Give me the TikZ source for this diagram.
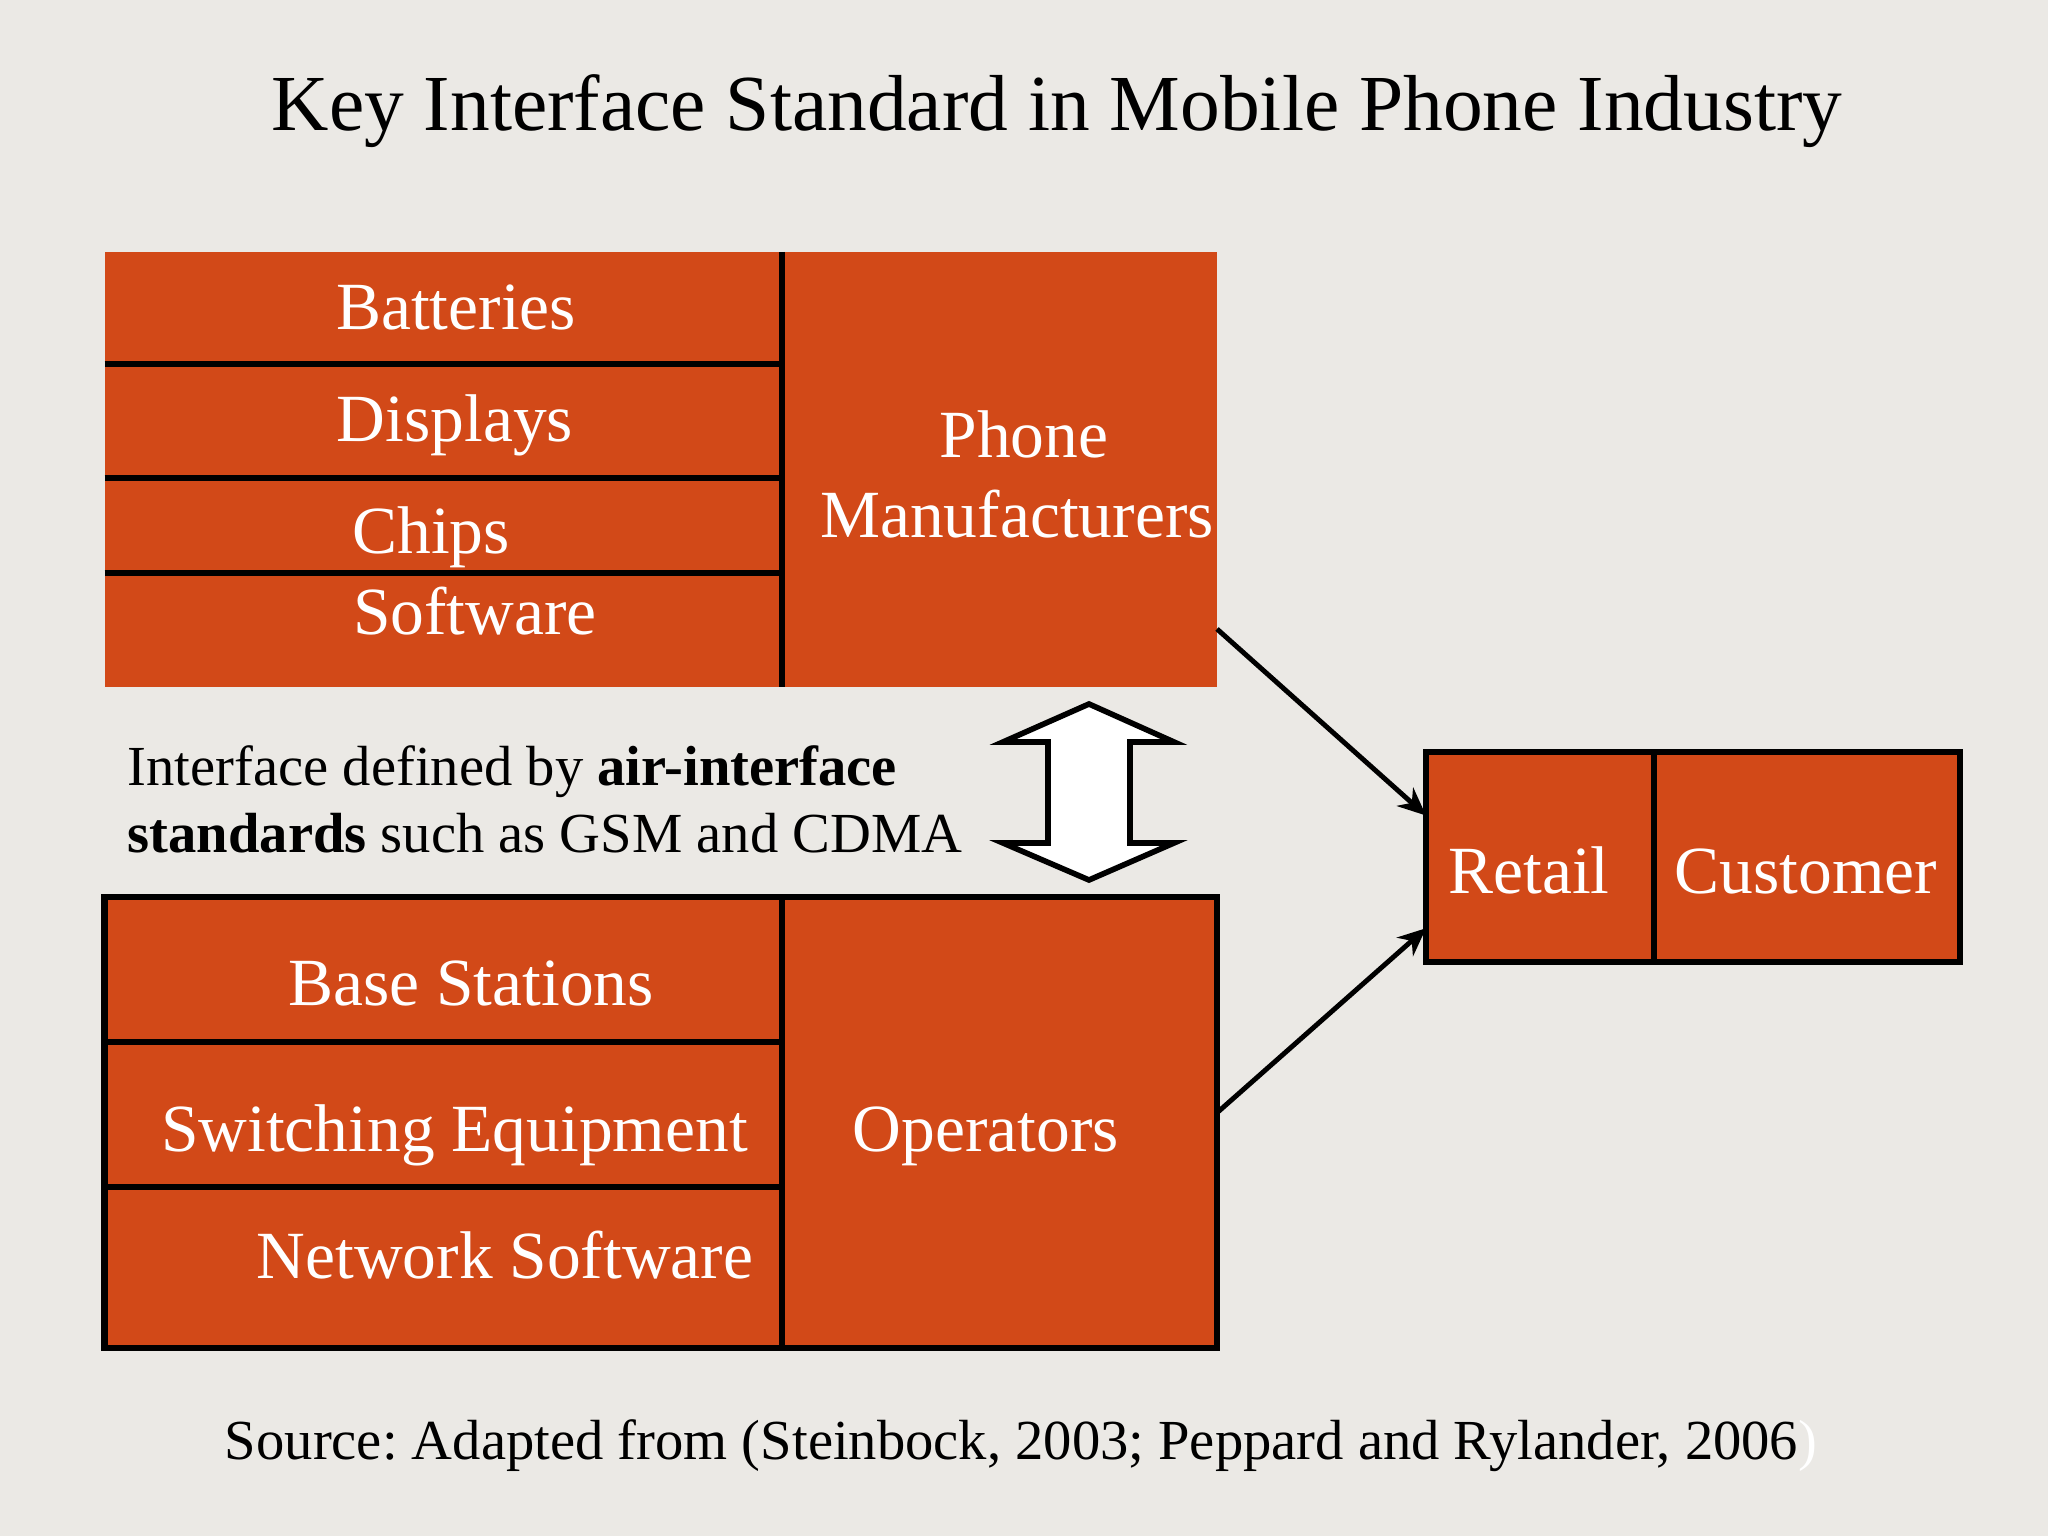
\documentclass[tikz,border=0pt]{standalone}
\usepackage{fontspec}
\setmainfont{Liberation Serif}
\usetikzlibrary{arrows.meta}
\frenchspacing
\definecolor{slidebg}{RGB}{235,233,229}
\definecolor{phoneorange}{RGB}{210,73,24}
\tikzset{
	block/.style={fill=phoneorange, inner sep=0pt, outer sep=0pt},
	framed/.style={block, draw=black, line width=1.9pt},
	divider/.style={line width=1.9pt},
	celltext/.style={text=white, anchor=base, font=\fontsize{19.2}{23}\selectfont},
	plaintext/.style={anchor=base west, inner sep=0pt, font=\fontsize{16.1}{19.3}\selectfont},
	link/.style={line width=1.4pt, -{Stealth[length=8pt, width=7pt]}}
}

\begin{document}
\begin{tikzpicture}
	\fill[slidebg] (0,0) rectangle (20.48,-15.36);
	\useasboundingbox (0,0) rectangle (20.48,-15.36);
	
	\node[anchor=base, font=\fontsize{22.6}{27}\selectfont] (title) at (10.57,-1.31) {Key Interface Standard in Mobile Phone Industry};
	
	% handset side
	\node[block, minimum width=11.125cm, minimum height=4.35cm] (mfr) at (6.6075,-4.695) {};
	\draw[divider] (7.82,-2.52) -- (7.82,-6.87);
	\draw[divider] (1.045,-3.64) -- (7.82,-3.64);
	\draw[divider] (1.045,-4.78) -- (7.82,-4.78);
	\draw[divider] (1.045,-5.73) -- (7.82,-5.73);
	
	\node[celltext] (batt) at (4.56,-3.30) {Batteries};
	\node[celltext] (disp) at (4.55,-4.42) {Displays};
	\node[celltext] (chips) at (4.31,-5.54) {Chips};
	\node[celltext] (soft) at (4.75,-6.35) {Software};
	\node[celltext] (phone) at (10.24,-4.58) {Phone};
	\node[celltext] (manuf) at (10.17,-5.38) {Manufacturers};
	
	% air interface
	\draw[line width=1.6pt, fill=white] (10.89,-7.04) -- (11.74,-7.42) -- (11.30,-7.42) -- (11.30,-8.43) -- (11.74,-8.43) -- (10.89,-8.80) -- (10.03,-8.43) -- (10.48,-8.43) -- (10.48,-7.42) -- (10.03,-7.42) -- cycle;
	\node[plaintext] (iface1) at (1.27,-7.85) {Interface defined by \textbf{air-interface}};
	\node[plaintext] (iface2) at (1.27,-8.53) {\textbf{standards} such as GSM and CDMA};
	
	% network side
	\node[framed, minimum width=11.125cm, minimum height=4.51cm] (ops) at (6.6075,-11.225) {};
	\draw[divider] (7.82,-8.97) -- (7.82,-13.48);
	\draw[divider] (1.045,-10.42) -- (7.82,-10.42);
	\draw[divider] (1.045,-11.87) -- (7.82,-11.87);
	
	\node[celltext] (base) at (4.71,-10.05) {Base Stations};
	\node[celltext] (switch) at (4.545,-11.51) {Switching Equipment};
	\node[celltext] (netsoft) at (5.05,-12.79) {Network Software};
	\node[celltext] (oper) at (9.86,-11.51) {Operators};
	
	% retail chain
	\node[framed, minimum width=2.28cm, minimum height=2.10cm] (retail) at (15.40,-8.57) {};
	\node[framed, minimum width=3.06cm, minimum height=2.10cm] (cust) at (18.07,-8.57) {};
	\node[celltext] (retailtxt) at (15.29,-8.93) {Retail};
	\node[celltext] (custtxt) at (18.06,-8.93) {Customer};
	
	\draw[link] (mfr.-16.9) -- (retail.160.1);
	\draw[link] (ops.1.8) -- (retail.212.2);
	
	\node[anchor=base, font=\fontsize{16.1}{19.3}\selectfont] (source) at (10.21,-14.59) {Source: Adapted from (Steinbock, 2003; Peppard and Rylander, 2006\textcolor{white}{)}};
\end{tikzpicture}
\end{document}
